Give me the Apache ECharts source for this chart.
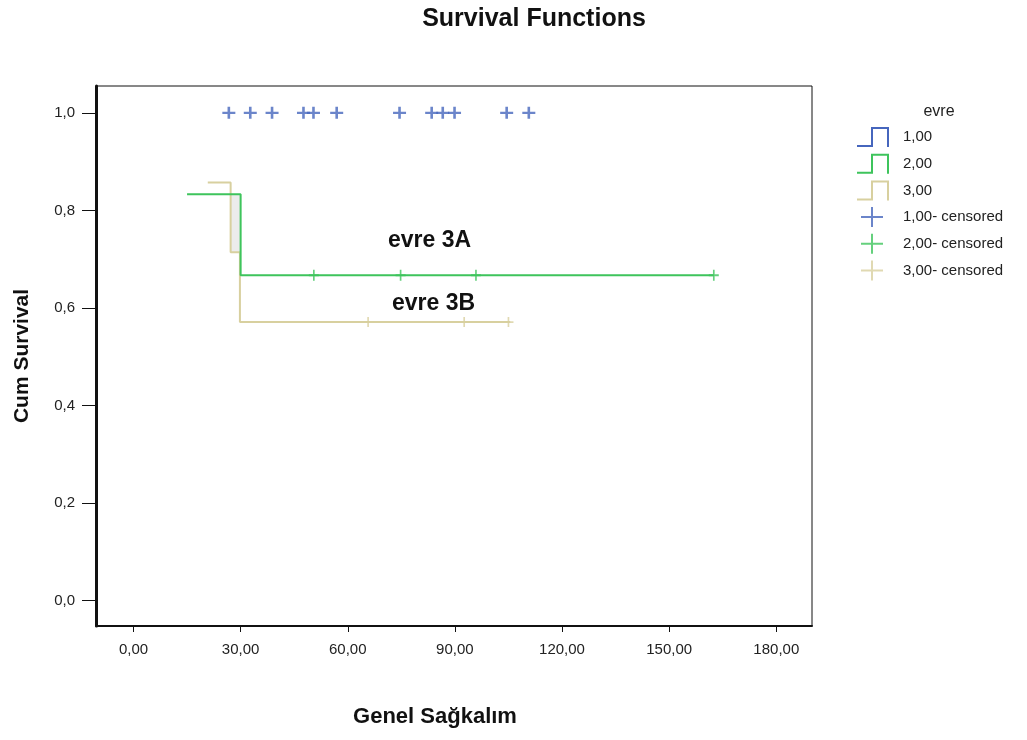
<!DOCTYPE html>
<html><head><meta charset="utf-8">
<script src="https://cdn.jsdelivr.net/npm/echarts@6/dist/echarts.min.js"></script>
<style>html,body{margin:0;padding:0;background:#fff}#c{width:1027px;height:740px}</style>
</head><body><div id="c"></div>
<script>
// ---- data ----
const xTicks = [0, 30, 60, 90, 120, 150, 180];
const yTicks = [0, 0.2, 0.4, 0.6, 0.8, 1.0];
const groupNames = ['1,00', '2,00', '3,00'];
const censorNames = ['1,00- censored', '2,00- censored', '3,00- censored'];
// group 1: no events, survival stays 1.0
const group1Times = [];
const group1Surv = [];
const group1CensorTimes = [26.7, 32.7, 38.8, 47.6, 50.4, 56.9, 74.5, 83.5, 86.6, 89.9, 104.5, 110.7];
// group 2 (evre 3A)
const group2Times = [15.0, 30.0, 162.5];
const group2Surv = [0.833, 0.667, 0.667];
const group2CensorTimes = [50.5, 74.8, 95.9, 162.5];
// group 3 (evre 3B)
const group3Times = [20.8, 27.2, 29.8, 105.5];
const group3Surv = [0.857, 0.714, 0.571, 0.571];
const group3CensorTimes = [65.7, 92.6, 105.0];
const annotations = ['evre 3A', 'evre 3B'];

// ---- helpers ----
function survAt(times, surv, t) {
  if (!times.length) return 1.0;
  let s = surv[0];
  for (let i = 0; i < times.length; i++) if (times[i] <= t) s = surv[i];
  return s;
}
const zip = (a, b) => a.map((v, i) => [v, b[i]]);

const FONT = "'Liberation Sans', Arial, sans-serif";
const colors = ['#4666bd', '#3ec45c', '#d8d09f'];
const stepIcon = 'path://M0,18 L14,18 L14,0 L32,0 L32,20 L30,20 L30,2 L16,2 L16,20 L0,20 Z';
const crossIcon = 'path://M0,0 M32,20 M14,0 L16,0 L16,9 L26,9 L26,11 L16,11 L16,20 L14,20 L14,11 L4,11 L4,9 L14,9 Z';
const crossSym = 'path://M5,0 L7,0 L7,5 L12,5 L12,7 L7,7 L7,12 L5,12 L5,7 L0,7 L0,5 L5,5 Z';
const crossBold = 'path://M4.8,0 L7.2,0 L7.2,4.8 L12,4.8 L12,7.2 L7.2,7.2 L7.2,12 L4.8,12 L4.8,7.2 L0,7.2 L0,4.8 L4.8,4.8 Z';

const chart = echarts.init(document.getElementById('c'), null, {renderer: 'canvas'});
const option = {
  animation: false,
  backgroundColor: '#fff',
  textStyle: {fontFamily: FONT},
  title: [
    {text: 'Survival Functions', left: 534, top: 7, textAlign: 'center', padding: 0,
     textStyle: {fontFamily: FONT, fontSize: 25, fontWeight: 'bold', color: '#111'}},
    {text: 'evre', left: 939, top: 104, textAlign: 'center', padding: 0,
     textStyle: {fontFamily: FONT, fontSize: 16, fontWeight: 'normal', color: '#222'}}
  ],
  legend: {
    orient: 'vertical', left: 857, top: 127, padding: 0,
    itemWidth: 32, itemHeight: 20, itemGap: 6.7,
    itemStyle: {borderWidth: 0},
    textStyle: {fontFamily: FONT, fontSize: 15, color: '#222', padding: [0, 0, 0, 9]},
    data: [
      {name: groupNames[0], icon: stepIcon},
      {name: groupNames[1], icon: stepIcon},
      {name: groupNames[2], icon: stepIcon},
      {name: censorNames[0], icon: crossIcon},
      {name: censorNames[1], icon: crossIcon},
      {name: censorNames[2], icon: crossIcon}
    ]
  },
  grid: {left: 96, right: 215, top: 86, bottom: 114, show: true, borderColor: '#111', borderWidth: 1, containLabel: false},
  xAxis: {
    type: 'value', min: -10.5, max: 190,
    name: 'Genel Sağkalım', nameLocation: 'middle', nameGap: 80,
    nameTextStyle: {fontFamily: FONT, fontSize: 22, fontWeight: 'bold', color: '#111', padding: [0, 38, 0, 0]},
    axisLine: {show: true, onZero: false, lineStyle: {color: '#111', width: 2}},
    axisTick: {show: true, inside: false, length: 6, customValues: xTicks, lineStyle: {color: '#111', width: 1}},
    axisLabel: {show: true, margin: 16, customValues: xTicks, fontFamily: FONT, fontSize: 15, color: '#222',
                formatter: v => v.toFixed(2).replace('.', ',')},
    splitLine: {show: false}
  },
  yAxis: {
    type: 'value', min: -0.052, max: 1.055,
    name: 'Cum Survival', nameLocation: 'middle', nameRotate: 90, nameGap: 63,
    nameTextStyle: {fontFamily: FONT, fontSize: 21, fontWeight: 'bold', color: '#111'},
    axisLine: {show: true, onZero: false, lineStyle: {color: '#111', width: 3}},
    axisTick: {show: true, inside: false, length: 14, customValues: yTicks, lineStyle: {color: '#111', width: 1}},
    axisLabel: {show: true, margin: 21, customValues: yTicks, fontFamily: FONT, fontSize: 15, color: '#222',
                formatter: v => v.toFixed(1).replace('.', ',')},
    splitLine: {show: false}
  },
  series: [
    {name: groupNames[0], type: 'line', step: 'end', symbol: 'none', color: colors[0],
     lineStyle: {width: 2, color: colors[0]}, data: zip(group1Times, group1Surv)},
    {name: groupNames[1], type: 'line', step: 'end', symbol: 'none', color: colors[1], z: 3,
     lineStyle: {width: 2, color: colors[1]}, data: zip(group2Times, group2Surv)},
    {name: groupNames[2], type: 'line', step: 'end', symbol: 'none', color: colors[2], z: 2,
     lineStyle: {width: 2, color: colors[2]}, data: zip(group3Times, group3Surv),
     markArea: {silent: true, itemStyle: {color: '#ececec'},
       data: [[{coord: [group3Times[1], group2Surv[0]]}, {coord: [group2Times[1], group3Surv[1]]}]]}},
    {name: censorNames[0], type: 'scatter', symbol: crossBold, symbolSize: [13, 12], color: colors[0], z: 4,
     data: group1CensorTimes.map(t => [t, survAt(group1Times, group1Surv, t)])},
    {name: censorNames[1], type: 'scatter', symbol: crossSym, symbolSize: [10, 11], color: colors[1], z: 4,
     data: group2CensorTimes.map(t => [t, survAt(group2Times, group2Surv, t)])},
    {name: censorNames[2], type: 'scatter', symbol: crossSym, symbolSize: [10, 10], color: colors[2], z: 4,
     data: group3CensorTimes.map(t => [t, survAt(group3Times, group3Surv, t)])}
  ],
  graphic: [
    {type: 'text', left: 388, top: 229, style: {text: annotations[0], font: "bold 23px " + FONT, fill: '#111'}},
    {type: 'text', left: 392, top: 292, style: {text: annotations[1], font: "bold 23px " + FONT, fill: '#111'}}
  ]
};
chart.setOption(option);
</script>
</body></html>
